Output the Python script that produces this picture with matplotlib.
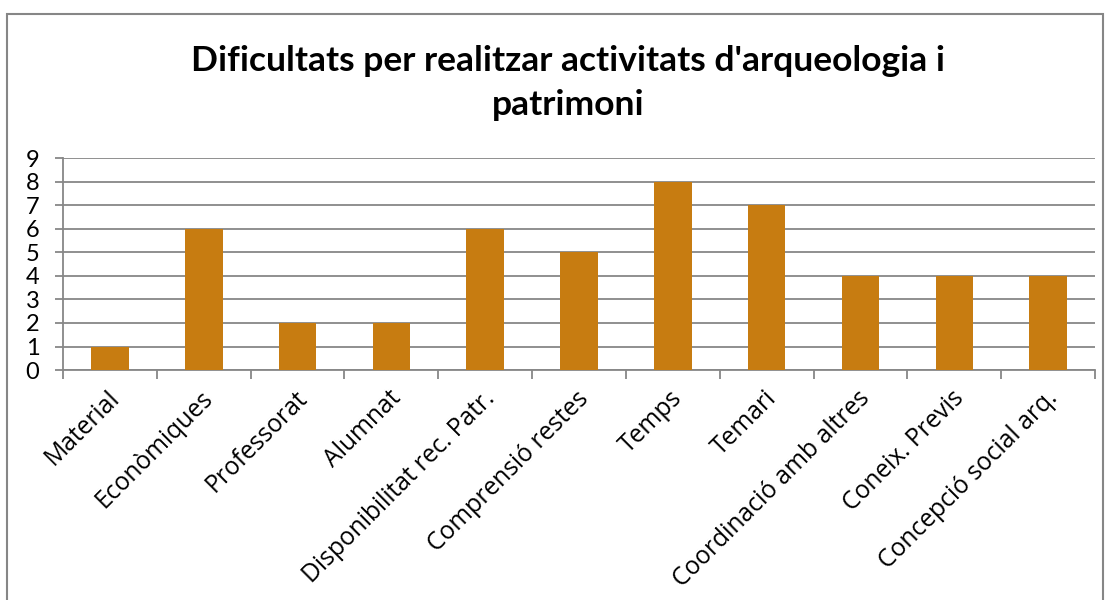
import matplotlib.pyplot as plt
from matplotlib.patches import Rectangle
from matplotlib.transforms import ScaledTranslation

# Data
categories = ["Material", "Econòmiques", "Professorat", "Alumnat",
              "Disponibilitat rec. Patr.", "Comprensió restes", "Temps",
              "Temari", "Coordinació amb altres", "Coneix. Previs",
              "Concepció social arq."]
values = [1, 6, 2, 2, 6, 5, 8, 7, 4, 4, 4]
title = "Dificultats per realitzar activitats d'arqueologia i\npatrimoni"

plt.rcParams['font.family'] = ['Lato', 'DejaVu Sans']

fig = plt.figure(figsize=(11.1, 6.0), dpi=100)
ax = fig.add_axes([0.0568, 0.3833, 0.9297, 0.3528])

grid_col = "#878787"
x = list(range(len(categories)))
ax.bar(x, values, width=0.4, color="#C77C11", zorder=3)

ax.set_xlim(-0.5, len(categories) - 0.5)
ax.set_ylim(0, 9)
ax.set_yticks(range(10))
ax.yaxis.grid(True, color=grid_col, linewidth=1.3, zorder=0)

# category ticks sit between bars, like Excel
ax.set_xticks([i - 0.5 for i in range(len(categories) + 1)])
ax.set_xticklabels([])
ax.set_xticks(x, minor=True)
ax.set_xticklabels(categories, minor=True, rotation=45, ha='right',
                   va='center', rotation_mode='anchor', fontsize=17.7,
                   family=['Open Sans', 'DejaVu Sans'])
ax.tick_params(axis='x', which='minor', length=0, pad=15)
ax.tick_params(axis='x', which='major', length=6.5, width=1.3, color=grid_col)
ax.tick_params(axis='y', length=6, width=1.3, color=grid_col,
               labelsize=17, pad=16)
for lab in ax.get_yticklabels():
    lab.set_horizontalalignment('center')

# nudge the category labels a little right/down
shift = ScaledTranslation(6 / 100, -4 / 100, fig.dpi_scale_trans)
for lab in ax.get_xticklabels(minor=True):
    lab.set_transform(lab.get_transform() + shift)

for side in ['top', 'right']:
    ax.spines[side].set_visible(False)
for side in ['left', 'bottom']:
    ax.spines[side].set_color(grid_col)
    ax.spines[side].set_linewidth(1.3)

fig.text(0.512, 0.862, title, ha='center', va='center', fontsize=25.5,
         fontweight='bold', linespacing=1.45)

# outer chart border
fig.patches.append(Rectangle((0.0063, -0.05), 0.987, 1.027, transform=fig.transFigure,
                             fill=False, edgecolor="#868686", linewidth=1.5))

plt.savefig("out.png", dpi=100)
